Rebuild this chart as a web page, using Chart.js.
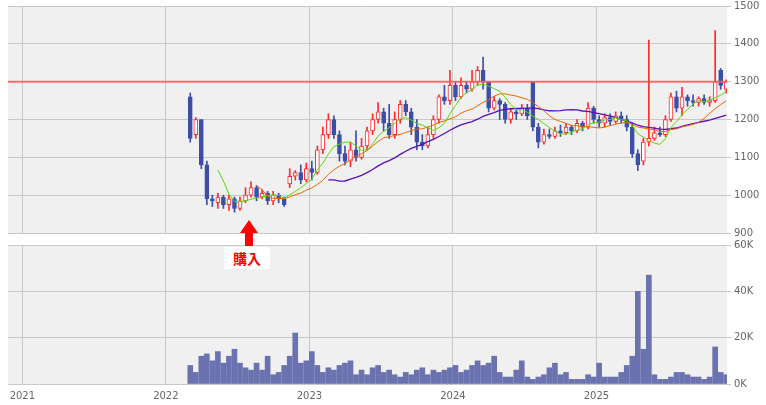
<!DOCTYPE html>
<html><head><meta charset="utf-8">
<script src="https://cdn.jsdelivr.net/npm/chart.js@4"></script>
<style>body{margin:0;background:#fff;width:766px;height:405px;overflow:hidden;position:relative;font-family:"DejaVu Sans",sans-serif}
canvas{position:absolute;left:0}
#arrowHead{position:absolute;left:240px;top:220px;width:0;height:0;border-left:9px solid transparent;border-right:9px solid transparent;border-bottom:13px solid #f00}
#arrowStem{position:absolute;left:245px;top:232px;width:8px;height:14px;background:#f00}
#label{position:absolute;left:224px;top:247px;width:46px;height:22px;background:#fff;color:#f00;font:bold 14px "Noto Sans CJK JP";text-align:center;line-height:22px}
</style></head><body>
<canvas id="bot" width="766" height="170" style="top:236px"></canvas>
<canvas id="top" width="766" height="245" style="top:-3px"></canvas>
<div id="arrowHead"></div><div id="arrowStem"></div><div id="label">購入</div>
<script>
const start=2022.17, step=0.0385;
const openP=[1260,1160,1200,1080,990,980,995,975,990,965,985,1000,1020,995,1005,985,1000,990,1030,1050,1060,1040,1070,1060,1120,1160,1200,1160,1110,1090,1120,1100,1130,1170,1200,1220,1190,1160,1200,1240,1220,1180,1140,1130,1160,1200,1260,1250,1290,1260,1290,1280,1300,1330,1300,1230,1250,1240,1200,1220,1215,1230,1300,1180,1140,1160,1155,1170,1165,1180,1170,1190,1180,1230,1200,1190,1205,1195,1210,1200,1180,1110,1090,1140,1150,1165,1160,1200,1260,1230,1260,1250,1245,1255,1245,1250,1330,1280];
const highP=[1270,1205,1200,1090,1000,1005,1000,1000,995,995,1020,1035,1025,1015,1010,1010,1005,995,1070,1065,1080,1085,1090,1130,1180,1215,1210,1170,1130,1140,1170,1150,1180,1215,1245,1230,1240,1220,1250,1250,1230,1200,1160,1180,1210,1265,1290,1330,1300,1310,1300,1330,1340,1365,1300,1260,1255,1245,1230,1225,1240,1240,1300,1190,1175,1175,1180,1185,1190,1185,1200,1195,1245,1235,1210,1215,1215,1220,1220,1210,1190,1120,1150,1410,1180,1180,1210,1270,1275,1285,1265,1265,1260,1265,1260,1435,1335,1305];
const lowP=[1140,1150,1070,975,970,965,965,960,955,960,980,995,985,990,975,975,980,970,1020,1040,1030,1035,1040,1055,1110,1150,1150,1090,1080,1075,1090,1095,1120,1160,1190,1170,1150,1150,1190,1210,1160,1120,1120,1125,1150,1190,1240,1240,1250,1255,1270,1275,1290,1280,1220,1225,1200,1190,1190,1200,1210,1200,1170,1125,1135,1150,1150,1155,1160,1160,1165,1170,1175,1190,1180,1180,1185,1190,1190,1170,1100,1065,1080,1130,1145,1155,1155,1195,1220,1210,1235,1235,1235,1240,1235,1245,1280,1270];
const closeP=[1150,1200,1080,990,985,995,975,990,965,985,1000,1020,995,1005,985,1000,990,975,1050,1060,1040,1070,1060,1120,1160,1200,1160,1110,1090,1120,1100,1130,1170,1200,1220,1190,1160,1200,1240,1220,1180,1140,1130,1160,1200,1260,1250,1290,1260,1290,1280,1300,1330,1300,1230,1250,1240,1200,1220,1215,1230,1210,1180,1140,1160,1155,1170,1165,1180,1170,1190,1180,1230,1200,1190,1205,1195,1210,1200,1180,1110,1080,1140,1150,1165,1160,1200,1260,1230,1260,1250,1245,1255,1245,1250,1300,1290,1300];
const volumeK=[8,5,12,13,10,14,9,12,15,9,7,6,9,6,12,4,5,8,12,22,9,10,14,8,5,7,6,8,9,10,4,6,4,7,8,5,6,4,3,5,4,6,7,4,6,5,6,7,8,5,6,8,10,8,9,12,5,3,3,6,10,3,2,3,4,7,9,4,5,2,2,2,4,3,9,3,3,3,5,8,12,40,15,47,4,2,2,3,5,5,4,3,3,2,3,16,5,4];
const yearTicks=[2021,2022,2023,2024,2025];
const refLine=1300;
const xs=closeP.map((_,i)=>+(start+step*i).toFixed(4));
function ma(n){return closeP.map((_,i)=>i<n-1?null:{x:xs[i],y:closeP.slice(i-n+1,i+1).reduce((a,b)=>a+b,0)/n}).filter(v=>v);}
const UP='#ff2a2a',DN='#3d4ea6';
const up=closeP.map((c,i)=>c>=openP[i]);
const bgPlugin={id:'bg',beforeDraw(ch){const a=ch.chartArea,c=ch.ctx;c.save();c.fillStyle='#f0f0f0';c.fillRect(a.left,a.top,a.right-a.left,a.bottom-a.top);c.restore();}};
const linePlugin={id:'ref',afterDatasetsDraw(ch){const y=ch.scales.y.getPixelForValue(refLine),a=ch.chartArea,c=ch.ctx;c.save();c.strokeStyle='rgba(255,90,90,0.85)';c.lineWidth=2;c.beginPath();c.moveTo(a.left,y);c.lineTo(a.right,y);c.stroke();c.restore();}};
const xBase={type:'linear',offset:false,min:2020.9,max:2025.91,afterBuildTicks(s){s.ticks=yearTicks.map(v=>({value:v}));},grid:{color:'#c8c8c8',drawTicks:false,offset:false},border:{display:false}};
Chart.defaults.font.family='"DejaVu Sans"';Chart.defaults.font.size=10;Chart.defaults.color='#666';Chart.defaults.animation=false;
new Chart(document.getElementById('top'),{type:'bar',data:{datasets:[
 {type:'line',data:ma(6),borderColor:'#55dd00',borderWidth:1,pointRadius:0,order:0},
 {type:'line',data:ma(13),borderColor:'#ee6600',borderWidth:1,pointRadius:0,order:0},
 {type:'line',data:ma(26),borderColor:'#5511bb',borderWidth:1.3,pointRadius:0,order:0},
 {data:xs.map((x,i)=>({x,y:[lowP[i],highP[i]]})),backgroundColor:up.map(u=>u?UP:DN),barThickness:1,grouped:false,order:2},
 {data:xs.map((x,i)=>({x,y:[openP[i],closeP[i]]})),backgroundColor:up.map(u=>u?'#ffffff':DN),borderColor:up.map(u=>u?UP:DN),borderWidth:1,borderSkipped:false,barThickness:4,minBarLength:1,grouped:false,order:1}
]},options:{responsive:false,devicePixelRatio:1,layout:{padding:{left:8,top:5,bottom:0,right:0}},plugins:{legend:{display:false},tooltip:{enabled:false}},
 scales:{x:Object.assign({},xBase,{ticks:{display:false},afterFit(s){s.height=0;}}),
 y:{position:'right',min:900,max:1500,ticks:{stepSize:100,padding:3,color:'#666',callback:v=>String(v)},grid:{color:'#c8c8c8',tickLength:4},border:{display:false},afterFit(s){s.width=39;}}}},plugins:[bgPlugin,linePlugin]});
new Chart(document.getElementById('bot'),{type:'bar',data:{datasets:[
 {data:xs.map((x,i)=>({x,y:volumeK[i]})),backgroundColor:'#6b72b0',barThickness:5}
]},options:{responsive:false,devicePixelRatio:1,layout:{padding:{left:8,top:0,bottom:0,right:0}},plugins:{legend:{display:false},tooltip:{enabled:false}},
 scales:{x:Object.assign({},xBase,{ticks:{padding:6,color:'#666',callback:v=>String(v)},afterFit(s){s.height=22;}}),
 y:{position:'right',min:0,max:60,ticks:{stepSize:20,padding:3,color:'#666',callback:v=>v+'K'},grid:{color:'#c8c8c8',tickLength:4},border:{display:false},afterFit(s){s.width=39;}}}},plugins:[bgPlugin]});
</script></body></html>
